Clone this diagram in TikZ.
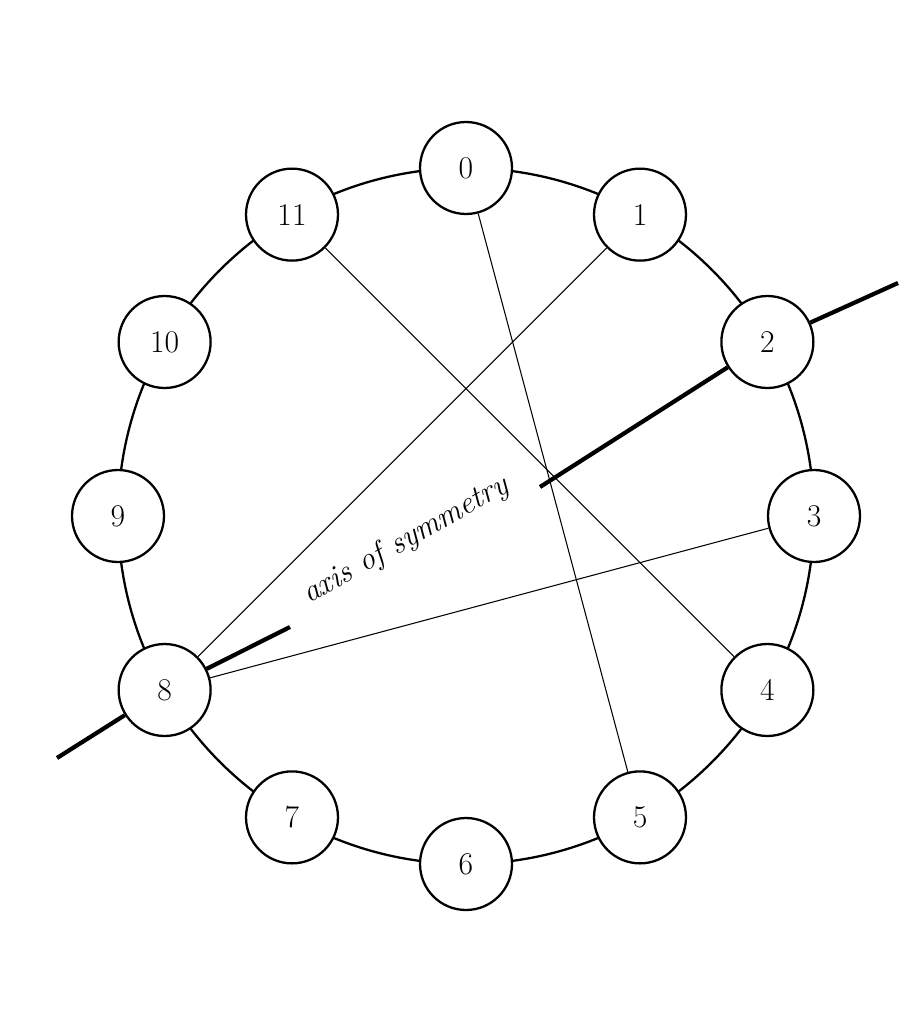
\documentclass[tikz,border=0pt]{standalone}
\usetikzlibrary{calc}
\begin{document}
\begin{tikzpicture}[x=0.02cm,y=-0.02cm,
  pc/.style={circle,draw,line width=1.3pt,fill=white,minimum size=1.84cm,inner sep=0pt,font=\fontsize{18}{20}\selectfont},
  chord/.style={line width=0.6pt},
  axis/.style={line width=2.4pt}]
\useasboundingbox (0,0) rectangle (910,1024);
\coordinate (c) at (466,516);
\draw[line width=1.3pt] (c) circle[radius=6.96cm];
\foreach \k in {0,...,11} {
  \pgfmathsetmacro\ang{30*\k-90}
  \node[pc] (n\k) at ($(c)+(\ang:348)$) {\k};
}
\coordinate (axA) at (57,758);
\coordinate (axB) at (898,283);
\coordinate (g1) at (290,627);
\coordinate (g2) at (540,487);
\draw[axis] (axA) -- (n8);
\draw[axis] (n8) -- (g1);
\draw[axis] (g2) -- (n2);
\draw[axis] (n2) -- (axB);
\path (g1) -- (g2) node[midway,sloped,above=-1pt,font=\fontsize{18}{20}\selectfont\itshape] {axis of symmetry};
\draw[chord] (n11) -- (n4);
\draw[chord] (n0) -- (n5);
\draw[chord] (n1) -- (n8);
\draw[chord] (n3) -- (n8);
\end{tikzpicture}
\end{document}
